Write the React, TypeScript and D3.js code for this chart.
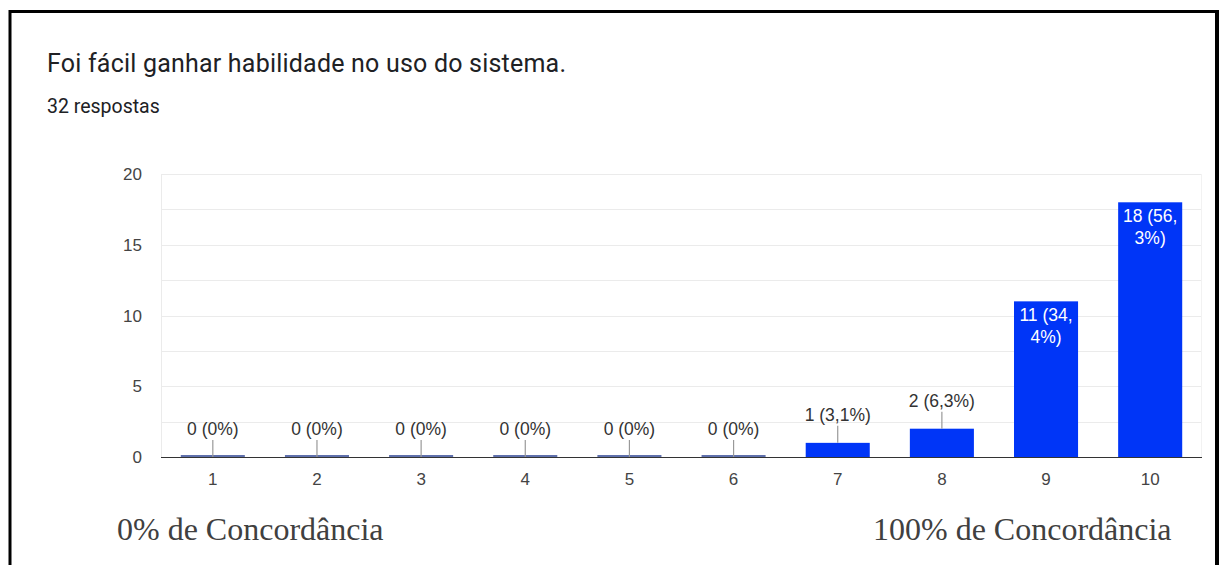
import React from "react";
import * as d3 from "d3";

const categories = ["1", "2", "3", "4", "5", "6", "7", "8", "9", "10"];
const counts = [0, 0, 0, 0, 0, 0, 1, 2, 11, 18];
const labelLines = [
  ["0 (0%)"], ["0 (0%)"], ["0 (0%)"], ["0 (0%)"], ["0 (0%)"], ["0 (0%)"],
  ["1 (3,1%)"], ["2 (6,3%)"], ["11 (34,", "4%)"], ["18 (56,", "3%)"],
];
const yTicks = [0, 5, 10, 15, 20];
const yMinor = [2.5, 7.5, 12.5, 17.5];
const title = "Foi fácil ganhar habilidade no uso do sistema.";
const subtitle = "32 respostas";
const leftNote = "0% de Concordância";
const rightNote = "100% de Concordância";

const W = 1221, H = 565;
const plot = { left: 161, right: 1202, top: 174, bottom: 457 };
const titleFont = "Roboto, Arial, sans-serif";
const font = "'Liberation Sans', Arial, sans-serif";
const serif = "'Liberation Serif', 'Times New Roman', serif";

export default function App() {
  const x = d3.scaleBand<string>().domain(categories).range([plot.left, plot.right]).paddingInner(0.385).paddingOuter(0.19);
  const y = d3.scaleLinear().domain([0, 20]).range([plot.bottom, plot.top]);
  const blue = "#0035f7";
  return (
    <svg width={W} height={H} style={{ position: "absolute", left: 0, top: 0, background: "#fff" }}>
      <rect x={0} y={0} width={W} height={H} fill="#fff" />
      <line x1={10} y1={11.5} x2={1218} y2={11.5} stroke="#000" strokeWidth={3} />
      <line x1={10} y1={10} x2={10} y2={H} stroke="#000" strokeWidth={3} />
      <line x1={1217} y1={10} x2={1217} y2={H} stroke="#000" strokeWidth={4} />
      <text x={47} y={72} fontFamily={titleFont} fontSize={25} fill="#202124" textLength={519} lengthAdjust="spacing">{title}</text>
      <text x={47} y={113} fontFamily={titleFont} fontSize={19.5} fill="#202124">{subtitle}</text>
      {[...yTicks, ...yMinor].map((t) => (
        <line key={"g" + t} x1={plot.left} x2={plot.right} y1={Math.round(y(t)) + 0.5} y2={Math.round(y(t)) + 0.5} stroke="#ebebeb" strokeWidth={1} />
      ))}
      <line x1={plot.left + 0.5} x2={plot.left + 0.5} y1={plot.top} y2={plot.bottom} stroke="#ebebeb" />
      <line x1={plot.right - 0.5} x2={plot.right - 0.5} y1={plot.top} y2={plot.bottom} stroke="#f2f2f2" />
      {yTicks.map((t) => (
        <text key={"t" + t} x={142} y={y(t) + 6} textAnchor="end" fontFamily={font} fontSize={17} fill="#444">{t}</text>
      ))}
      {categories.map((c, i) => {
        const v = counts[i];
        const bx = x(c)!;
        const bw = x.bandwidth();
        const top = y(v);
        const cx = bx + bw / 2;
        const lines = labelLines[i];
        const inside = v >= 5;
        return (
          <g key={c}>
            {v > 0 ? (
              <rect x={bx} y={top} width={bw} height={plot.bottom - top} fill={blue} />
            ) : (
              <line x1={bx} x2={bx + bw} y1={plot.bottom - 1} y2={plot.bottom - 1} stroke="#2a4090" strokeWidth={1.5} />
            )}
            {inside ? (
              lines.map((l, k) => (
                <text key={k} x={cx} y={top + 20 + k * 22} textAnchor="middle" fontFamily={font} fontSize={17.5} fill="#fff">{l}</text>
              ))
            ) : (
              <g>
                <line x1={cx} x2={cx} y1={top - 17} y2={top} stroke="#999" strokeWidth={1.2} />
                <text x={cx} y={top - 22} textAnchor="middle" fontFamily={font} fontSize={17.5} fill="#333">{lines[0]}</text>
              </g>
            )}
            <text x={cx} y={485} textAnchor="middle" fontFamily={font} fontSize={17} fill="#444">{c}</text>
          </g>
        );
      })}
      <line x1={plot.left} x2={plot.right} y1={plot.bottom + 0.5} y2={plot.bottom + 0.5} stroke="#333" strokeWidth={1} />
      <text x={117} y={540} fontFamily={serif} fontSize={32} fill="#404040">{leftNote}</text>
      <text x={873} y={540} fontFamily={serif} fontSize={32} fill="#404040">{rightNote}</text>
    </svg>
  );
}
